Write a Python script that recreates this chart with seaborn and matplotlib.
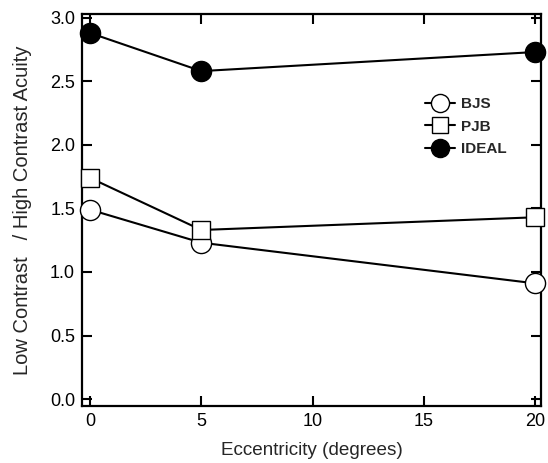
import matplotlib.pyplot as plt
import pandas as pd
import seaborn as sns

# Values
eccentricity = [0, 5, 20]
bjs = [1.49, 1.23, 0.91]
pjb = [1.74, 1.33, 1.43]
ideal = [2.88, 2.58, 2.73]
series_names = ["BJS", "PJB", "IDEAL"]

df = pd.DataFrame({
    "ecc": eccentricity * 3,
    "ratio": bjs + pjb + ideal,
    "subject": [n for n in series_names for _ in eccentricity],
})

sns.set_style("ticks")
plt.rcParams["font.family"] = ["Liberation Sans", "DejaVu Sans"]

fig = plt.figure(figsize=(5.48, 4.63), dpi=100)
ax = fig.add_axes([0.1496, 0.123, 0.8374, 0.847])

styles = {
    "BJS": dict(marker="o", markersize=14.5, markerfacecolor="white"),
    "PJB": dict(marker="s", markersize=13.5, markerfacecolor="white"),
    "IDEAL": dict(marker="o", markersize=14.5, markerfacecolor="black"),
}

for name in series_names:
    sub = df[df["subject"] == name]
    sns.lineplot(data=sub, x="ecc", y="ratio", ax=ax, color="black",
                 linewidth=1.5, markeredgecolor="black", markeredgewidth=1.0,
                 label=name, clip_on=False, zorder=3, **styles[name])

ax.set_xlim(-0.36, 20.25)
ax.set_ylim(-0.055, 3.03)
ax.set_xticks([0, 5, 10, 15, 20])
ax.set_yticks([0.0, 0.5, 1.0, 1.5, 2.0, 2.5, 3.0])
ax.set_yticklabels(["0.0", "0.5", "1.0", "1.5", "2.0", "2.5", "3.0"])

ax.tick_params(direction="in", length=7, width=1.5, top=True, right=True,
               labelsize=13, colors="black", pad=5)
for side in ax.spines.values():
    side.set_linewidth(1.6)
    side.set_color("black")

ax.set_xlabel("Eccentricity (degrees)", fontsize=13.6, labelpad=9)
ax.set_ylabel("Low Contrast   / High Contrast Acuity", fontsize=14.5, labelpad=13)

leg = ax.legend(loc="center left", bbox_to_anchor=(0.73, 0.712), frameon=False,
                fontsize=11, handlelength=2.0, handletextpad=0.4,
                labelspacing=0.55, borderpad=0, markerscale=0.9)
for t in leg.get_texts():
    t.set_fontweight("bold")

fig.savefig("out.png", dpi=100)
